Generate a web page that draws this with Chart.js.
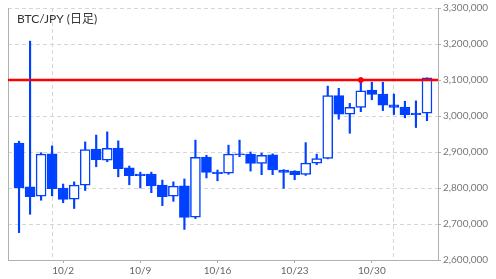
<!DOCTYPE html>
<html>
<head>
<meta charset="utf-8">
<script src="https://cdn.jsdelivr.net/npm/chart.js@4/dist/chart.umd.min.js"></script>
<style>
html,body{margin:0;padding:0;background:#fff;}
#wrap{position:relative;width:496px;height:279px;}
</style>
</head>
<body>
<div id="wrap"><canvas id="c" width="496" height="279"></canvas></div>
<script>
// ---- data ----
const dates = ['9/28','9/29','9/30','10/1','10/2','10/3','10/4','10/5','10/6','10/7','10/8','10/9','10/10','10/11','10/12','10/13','10/14','10/15','10/16','10/17','10/18','10/19','10/20','10/21','10/22','10/23','10/24','10/25','10/26','10/27','10/28','10/29','10/30','10/31','11/1','11/2','11/3','11/4'];
const opens  = [2925000,2803000,2777000,2895000,2800000,2769000,2808000,2908000,2877000,2911000,2856000,2839000,2839000,2808000,2777000,2806000,2719000,2886000,2844000,2841000,2895000,2894000,2868000,2892000,2850000,2847000,2838000,2869000,2882000,3057000,3005000,3024000,3072000,3061000,3031000,3025000,3008000,3008000];
const highs  = [2930000,3208000,2898000,2917000,2811000,2817000,2928000,2947000,2956000,2931000,2861000,2844000,2844000,2822000,2817000,2825000,2933000,2891000,2850000,2919000,2933000,2900000,2897000,2895000,2851000,2848000,2926000,2894000,3083000,3077000,3035000,3100000,3094000,3094000,3061000,3041000,3042000,3106000];
const lows   = [2676000,2727000,2766000,2778000,2759000,2743000,2793000,2859000,2873000,2831000,2809000,2800000,2787000,2751000,2763000,2685000,2715000,2828000,2820000,2838000,2887000,2847000,2837000,2837000,2799000,2823000,2835000,2865000,2881000,2991000,2952000,3012000,3045000,3015000,3004000,2995000,2968000,2987000];
const closes = [2800000,2776000,2894000,2798000,2768000,2808000,2907000,2879000,2910000,2854000,2834000,2834000,2806000,2776000,2805000,2718000,2885000,2843000,2840000,2894000,2892000,2868000,2891000,2850000,2843000,2837000,2869000,2882000,3057000,3005000,3024000,3070000,3060000,3030000,3024000,3004000,3004000,3106000];
const xTickLabels = ['10/2','10/9','10/16','10/23','10/30'];
const monthStarts = ['10/1','11/1'];
const yTicks = [2600000,2700000,2800000,2900000,3000000,3100000,3200000,3300000];
const resistance = 3100000;
const markerDate = '10/29';
const titleText = 'BTC/JPY (日足)';

const BLUE = '#0040ff';
const GRID = '#d6d6d6';
const AXIS = '#b0b0b0';

const labelIdx = xTickLabels.map(d => dates.indexOf(d));
const monthIdx = monthStarts.map(d => dates.indexOf(d));
const tickVals = [...monthIdx, ...labelIdx].sort((a,b)=>a-b);

const wickData = dates.map((d,i) => ({x:i, y:[lows[i], highs[i]]}));
const bodyData = dates.map((d,i) => ({x:i, y:[opens[i], closes[i]]}));
const isUp = i => closes[i] > opens[i];

const titlePlugin = {
  id: 'titleText',
  afterDraw(chart) {
    const ctx = chart.ctx;
    ctx.save();
    ctx.font = '12px Lato, "Noto Sans CJK JP", sans-serif';
    ctx.fillStyle = '#333';
    ctx.textBaseline = 'middle';
    ctx.textAlign = 'left';
    ctx.fillText(titleText, 17, 19);
    ctx.restore();
  }
};

new Chart(document.getElementById('c'), {
  type: 'bar',
  data: {
    datasets: [
      {
        type: 'line',
        data: [{x:-1, y:resistance},{x:dates.length, y:resistance}],
        borderColor: '#ff0000', borderWidth: 2.5, pointRadius: 0, order: 0, xAxisID:'x', yAxisID:'y'
      },
      {
        type: 'scatter',
        data: [{x: dates.indexOf(markerDate), y: highs[dates.indexOf(markerDate)]}],
        backgroundColor: '#ff0000', borderColor: '#ff0000', pointRadius: 2.5, order: 0, xAxisID:'x', yAxisID:'y'
      },
      {
        data: bodyData,
        grouped: false,
        barThickness: 10,
        backgroundColor: ctx => isUp(ctx.dataIndex) ? '#ffffff' : BLUE,
        borderColor: BLUE,
        borderWidth: 1.5,
        borderSkipped: false,
        order: 1, xAxisID:'x', yAxisID:'y'
      },
      {
        data: wickData,
        grouped: false,
        barThickness: 1.5,
        backgroundColor: BLUE,
        borderWidth: 0,
        order: 2, xAxisID:'x', yAxisID:'y'
      }
    ]
  },
  options: {
    responsive: false,
    animation: false,
    devicePixelRatio: 1,
    layout: { padding: { top: 8, left: 0, right: 0, bottom: 0 } },
    plugins: { legend: { display: false }, tooltip: { enabled: false } },
    scales: {
      x: {
        type: 'linear',
        offset: false,
        min: -1, max: dates.length,
        afterBuildTicks: s => { s.ticks = tickVals.map(v => ({value: v})); },
        afterFit: s => { s.height = 19; },
        ticks: {
          autoSkip: false, maxRotation: 0, padding: 2,
          color: '#666', font: { family: 'Lato', size: 10 },
          callback: v => labelIdx.includes(v) ? dates[v] : ''
        },
        grid: {
          offset: false,
          drawOnChartArea: true,
          color: c => (c.tick && monthIdx.includes(c.tick.value)) ? GRID : 'rgba(0,0,0,0)',
          tickColor: c => (c.tick && labelIdx.includes(c.tick.value)) ? AXIS : 'rgba(0,0,0,0)',
          tickLength: 3,
          tickBorderDash: []
        },
        border: { display: true, color: AXIS, width: 1, dash: [4,3] }
      },
      y: {
        position: 'right',
        min: 2600000, max: 3300000,
        afterBuildTicks: s => { s.ticks = yTicks.map(v => ({value: v})); },
        afterFit: s => { s.width = 58; },
        ticks: {
          padding: 2, color: '#777', font: { family: 'Lato', size: 10 },
          callback: v => Number(v).toLocaleString('en-US')
        },
        grid: { color: GRID, tickColor: AXIS, tickLength: 3, tickBorderDash: [] },
        border: { display: true, color: AXIS, width: 1, dash: [4,3] }
      },
      yl: {
        position: 'left',
        min: 2600000, max: 3300000,
        afterFit: s => { s.width = 8; },
        ticks: { display: false },
        grid: { display: false },
        border: { display: true, color: AXIS, width: 1 }
      }
    }
  },
  plugins: [titlePlugin]
});
</script>
</body>
</html>
